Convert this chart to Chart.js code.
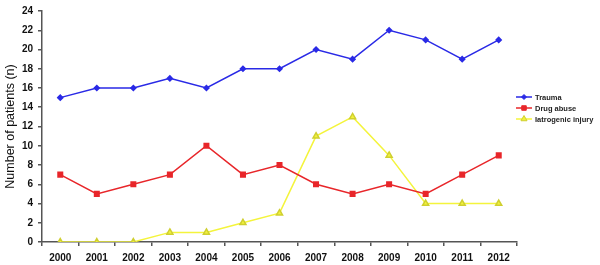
<!DOCTYPE html>
<html><head><meta charset="utf-8">
<script src="https://cdn.jsdelivr.net/npm/chart.js@4/dist/chart.umd.min.js"></script>
<style>html,body{margin:0;padding:0;background:#fff}</style>
</head><body>
<canvas id="c" width="600" height="265"></canvas>
<script>
const years = ['2000','2001','2002','2003','2004','2005','2006','2007','2008','2009','2010','2011','2012'];
const trauma = [15,16,16,17,16,18,18,20,19,22,21,19,21];
const drugAbuse = [7,5,6,7,10,7,8,6,5,6,5,7,9];
const iatrogenic = [0,0,0,1,1,2,3,11,13,9,4,4,4];
const seriesNames = ['Trauma','Drug abuse','Iatrogenic injury'];
const yMin = 0, yMax = 24, yStep = 2;

const NARROW = '"Liberation Sans Narrow","Liberation Sans",Arial,sans-serif';
const SANS = '"Liberation Sans",Arial,sans-serif';
const AXIS = '#555555';

const legendPlugin = {
  id: 'sideLegend',
  afterDraw(chart) {
    const ctx = chart.ctx;
    const x0 = 516, x1 = 532, tx = 535;
    const ys = [97, 108, 119];
    chart.data.datasets.forEach((ds, i) => {
      const y = ys[i];
      ctx.save();
      ctx.strokeStyle = ds.borderColor;
      ctx.lineWidth = 1.5;
      ctx.beginPath(); ctx.moveTo(x0, y); ctx.lineTo(x1, y); ctx.stroke();
      ctx.fillStyle = ds.pointBackgroundColor;
      ctx.strokeStyle = ds.pointBorderColor;
      ctx.lineWidth = 1;
      Chart.helpers.drawPoint(ctx, {
        pointStyle: ds.pointStyle, radius: ds.pointRadius, borderWidth: 1
      }, (x0 + x1) / 2, y);
      ctx.restore();
      ctx.save();
      ctx.fillStyle = '#222';
      ctx.font = 'bold 7.5px ' + NARROW;
      ctx.textBaseline = 'middle';
      ctx.textAlign = 'left';
      ctx.fillText(ds.label, tx, y + 0.5);
      ctx.restore();
    });
  }
};

new Chart(document.getElementById('c'), {
  type: 'line',
  data: {
    labels: years,
    datasets: [
      { label: seriesNames[0], data: trauma, borderColor: '#2a2ae6', backgroundColor: '#2a2ae6',
        pointBackgroundColor: '#2a2ae6', pointBorderColor: '#2a2ae6', pointStyle: 'rectRot', pointRadius: 2.5,
        borderWidth: 1.5, tension: 0 },
      { label: seriesNames[1], data: drugAbuse, borderColor: '#e8262a', backgroundColor: '#e8262a',
        pointBackgroundColor: '#e8262a', pointBorderColor: '#e8262a', pointStyle: 'rect', pointRadius: 3.2,
        borderWidth: 1.5, tension: 0 },
      { label: seriesNames[2], data: iatrogenic, borderColor: '#f4f43c', backgroundColor: '#f4f43c',
        pointBackgroundColor: '#f2f23a', pointBorderColor: '#cfcf30', pointStyle: 'triangle', pointRadius: 3.5,
        borderWidth: 1.5, tension: 0 }
    ]
  },
  options: {
    responsive: false,
    animation: false,
    devicePixelRatio: 1,
    layout: { padding: { top: 9, right: 83, left: 0, bottom: 0 } },
    plugins: { legend: { display: false }, tooltip: { enabled: false } },
    elements: { point: { borderWidth: 1 } },
    scales: {
      x: {
        offset: true,
        grid: { offset: true, drawOnChartArea: false, drawTicks: true, tickLength: 4, color: AXIS, lineWidth: 1.5 },
        border: { display: true, color: AXIS, width: 1.5 },
        ticks: { font: { family: NARROW, size: 10, weight: 'bold' }, color: '#111', padding: 6, maxRotation: 0, autoSkip: false },
        afterFit(s) { s.height = 23; }
      },
      y: {
        min: yMin, max: yMax,
        grid: { drawOnChartArea: false, drawTicks: true, tickLength: 4, color: AXIS, lineWidth: 1.5 },
        border: { display: true, color: AXIS, width: 1.5 },
        ticks: { stepSize: yStep, font: { family: NARROW, size: 10, weight: 'bold' }, color: '#111', padding: 5 },
        title: { display: true, text: 'Number of patients (n)', font: { family: SANS, size: 12.5 }, color: '#111', padding: { top: 3, bottom: 0 } },
        afterFit(s) { s.width = 42; }
      }
    }
  },
  plugins: [legendPlugin]
});
</script>
</body></html>
